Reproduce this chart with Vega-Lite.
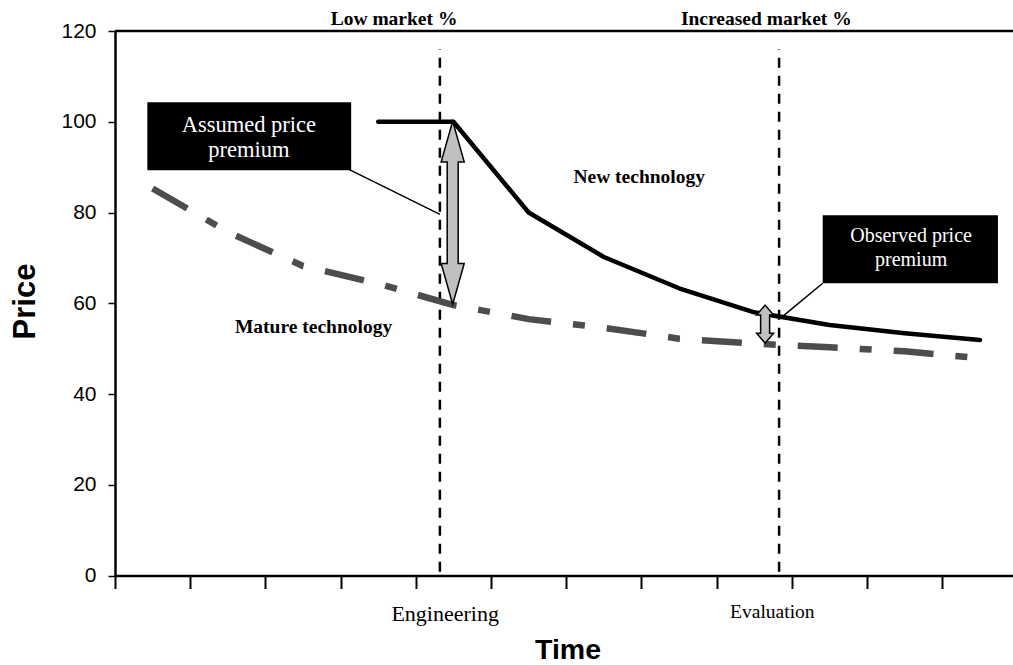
{
  "$schema": "https://vega.github.io/schema/vega-lite/v6.json",
  "width": 898,
  "height": 544.5,
  "autosize": {"type": "none"},
  "padding": {"left": 115, "top": 31, "right": 0, "bottom": 89.5},
  "background": "white",
  "config": {"view": {"stroke": null}},
  "datasets": {
    "lines": [
      {"series": "New technology", "t": 3.5, "price": 100},
      {"series": "New technology", "t": 4.5, "price": 100},
      {"series": "New technology", "t": 5.5, "price": 80},
      {"series": "New technology", "t": 6.5, "price": 70.2},
      {"series": "New technology", "t": 7.5, "price": 63.3},
      {"series": "New technology", "t": 8.5, "price": 58},
      {"series": "New technology", "t": 9.5, "price": 55.2},
      {"series": "New technology", "t": 10.5, "price": 53.4},
      {"series": "New technology", "t": 11.5, "price": 51.9},
      {"series": "Mature technology", "t": 0.5, "price": 85.3},
      {"series": "Mature technology", "t": 1.5, "price": 75.7},
      {"series": "Mature technology", "t": 2.5, "price": 68.2},
      {"series": "Mature technology", "t": 3.5, "price": 64.3},
      {"series": "Mature technology", "t": 4.5, "price": 59.6},
      {"series": "Mature technology", "t": 5.5, "price": 56.5},
      {"series": "Mature technology", "t": 6.5, "price": 54.6},
      {"series": "Mature technology", "t": 7.5, "price": 52.2},
      {"series": "Mature technology", "t": 8.5, "price": 51.1},
      {"series": "Mature technology", "t": 9.5, "price": 50.3},
      {"series": "Mature technology", "t": 10.5, "price": 49.4},
      {"series": "Mature technology", "t": 11.5, "price": 47.9}
    ]
  },
  "encoding": {
    "x": {
      "field": "t",
      "type": "quantitative",
      "scale": {"domain": [0, 11.94], "nice": false, "zero": false},
      "axis": {
        "title": "Time",
        "values": [0, 1, 2, 3, 4, 5, 6, 7, 8, 9, 10, 11],
        "labels": false,
        "grid": false,
        "domainColor": "black",
        "domainWidth": 2.5,
        "tickColor": "black",
        "tickWidth": 2,
        "tickSize": 13,
        "titleFont": "Liberation Sans",
        "titleFontSize": 28.5,
        "titleFontWeight": "bold",
        "titleColor": "black",
        "titleX": 452.5,
        "titleY": 82.5,
        "titleAlign": "center",
        "titleBaseline": "alphabetic"
      }
    },
    "y": {
      "field": "price",
      "type": "quantitative",
      "scale": {"domain": [0, 120], "nice": false, "zero": false},
      "axis": {
        "title": "Price",
        "values": [0, 20, 40, 60, 80, 100, 120],
        "grid": false,
        "domainColor": "black",
        "domainWidth": 2.5,
        "tickColor": "black",
        "tickWidth": 1.5,
        "tickSize": 7,
        "labelPadding": 12,
        "labelFont": "Liberation Sans",
        "labelFontSize": 21,
        "labelColor": "black",
        "titleFont": "Liberation Sans",
        "titleFontSize": 31,
        "titleFontWeight": "bold",
        "titleColor": "black",
        "titleX": -81,
        "titleY": 270,
        "titleAngle": -90,
        "titleAlign": "center",
        "titleBaseline": "alphabetic"
      }
    }
  },
  "layer": [
    {
      "data": {"values": [{"t": 0, "t2": 11.94, "price": 120}]},
      "mark": {"type": "rule", "color": "black", "strokeWidth": 2.5},
      "encoding": {"x2": {"field": "t2"}}
    },
    {
      "data": {"values": [
        {"t": 4.32, "price": 0.8, "price2": 116},
        {"t": 8.83, "price": 0.8, "price2": 116}
      ]},
      "mark": {"type": "rule", "color": "black", "strokeWidth": 2.5, "strokeDash": [10, 8]},
      "encoding": {"y2": {"field": "price2"}}
    },
    {
      "data": {"name": "lines"},
      "transform": [{"filter": "datum.series === 'Mature technology'"}],
      "mark": {"type": "line", "color": "#4d4d4d", "strokeWidth": 6.5, "strokeDash": [40, 22, 12, 22], "strokeCap": "butt"}
    },
    {
      "data": {"name": "lines"},
      "transform": [{"filter": "datum.series === 'New technology'"}],
      "mark": {"type": "line", "color": "black", "strokeWidth": 4.5, "strokeCap": "round", "strokeJoin": "round"}
    },
    {
      "data": {"values": [
        {"t": 3.11, "price": 89.5, "t2": 4.32, "price2": 79.6},
        {"t": 9.41, "price": 64.4, "t2": 8.87, "price2": 57.0}
      ]},
      "mark": {"type": "rule", "color": "black", "strokeWidth": 1.5},
      "encoding": {"x2": {"field": "t2"}, "y2": {"field": "price2"}}
    },
    {
      "data": {"values": [
        {"t": 0.43, "t2": 3.14, "price": 104.3, "price2": 89.3},
        {"t": 9.41, "t2": 11.74, "price": 79.4, "price2": 64.4}
      ]},
      "mark": {"type": "rect", "color": "black"},
      "encoding": {"x2": {"field": "t2"}, "y2": {"field": "price2"}}
    },
    {
      "data": {"values": [{"t": 4.49, "price": 79.96}]},
      "mark": {
        "type": "point",
        "filled": true,
        "fill": "#c0c0c0",
        "stroke": "black",
        "strokeWidth": 1.5,
        "opacity": 1,
        "size": 33489,
        "shape": "M0,-1L0.126,-0.555L0.06,-0.555L0.06,0.555L0.126,0.555L0,1L-0.126,0.555L-0.06,0.555L-0.06,-0.555L-0.126,-0.555Z"
      }
    },
    {
      "data": {"values": [{"t": 8.644, "price": 55.4}]},
      "mark": {
        "type": "point",
        "filled": true,
        "fill": "#c0c0c0",
        "stroke": "black",
        "strokeWidth": 1.5,
        "opacity": 1,
        "size": 1444,
        "shape": "M0,-1L0.447,-0.474L0.237,-0.474L0.237,0.474L0.447,0.474L0,1L-0.447,0.474L-0.237,0.474L-0.237,-0.474L-0.447,-0.474Z"
      }
    },
    {
      "data": {"values": [
        {"t": 1.78, "price": 97.7, "label": "Assumed price"},
        {"t": 1.78, "price": 92.2, "label": "premium"}
      ]},
      "mark": {"type": "text", "font": "Liberation Serif", "fontSize": 22.5, "color": "white", "align": "center", "baseline": "alphabetic"},
      "encoding": {"text": {"field": "label"}}
    },
    {
      "data": {"values": [
        {"t": 10.585, "price": 73.5, "label": "Observed price"},
        {"t": 10.585, "price": 68.2, "label": "premium"}
      ]},
      "mark": {"type": "text", "font": "Liberation Serif", "fontSize": 20, "color": "white", "align": "center", "baseline": "alphabetic"},
      "encoding": {"text": {"field": "label"}}
    },
    {
      "data": {"values": [
        {"t": 3.71, "price": 121.3, "label": "Low market %"},
        {"t": 8.66, "price": 121.3, "label": "Increased market %"},
        {"t": 6.97, "price": 86.45, "label": "New technology"},
        {"t": 2.64, "price": 53.4, "label": "Mature technology"}
      ]},
      "mark": {"type": "text", "font": "Liberation Serif", "fontSize": 19.5, "fontWeight": "bold", "color": "black", "align": "center", "baseline": "alphabetic"},
      "encoding": {"text": {"field": "label"}}
    },
    {
      "data": {"values": [
        {"t": 4.39, "price": -9.95, "label": "Engineering", "fs": 22},
        {"t": 8.74, "price": -9.4, "label": "Evaluation", "fs": 19.5}
      ]},
      "mark": {"type": "text", "font": "Liberation Serif", "color": "black", "align": "center", "baseline": "alphabetic"},
      "encoding": {
        "text": {"field": "label"},
        "size": {"field": "fs", "type": "quantitative", "scale": null, "legend": null}
      }
    }
  ]
}
